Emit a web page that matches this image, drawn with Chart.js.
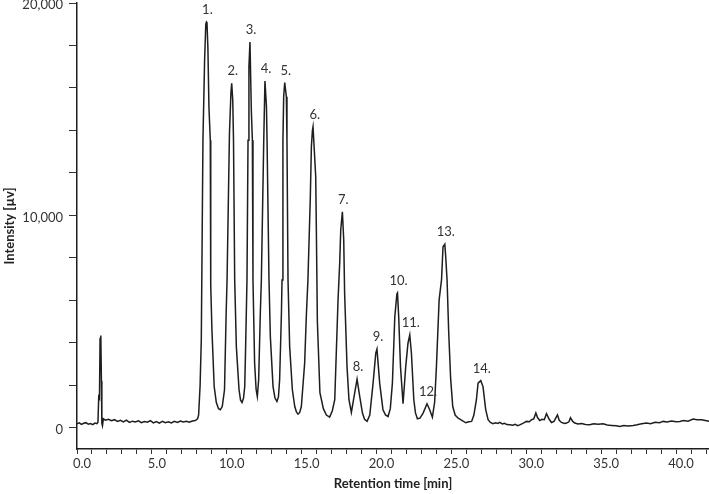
<!DOCTYPE html>
<html>
<head>
<meta charset="utf-8">
<script src="https://cdn.jsdelivr.net/npm/chart.js@4.4.1/dist/chart.umd.min.js"></script>
<style>
  html, body { margin: 0; padding: 0; background: #fff; }
  canvas { display: block; }
</style>
</head>
<body>
<canvas id="chromChart" width="709" height="494"></canvas>
<script>
// chromatogram trace (min, µV)
const retentionTime = [
    0.00, 0.15, 0.30, 0.45, 0.60, 0.75, 0.90, 1.05, 1.20, 1.33, 1.40, 1.45, 1.50, 1.54, 1.59, 1.63, 1.66, 1.70, 1.76,
    1.90, 2.10, 2.30, 2.50, 2.70, 2.90, 3.10, 3.30, 3.50, 3.70, 3.90, 4.10, 4.30, 4.50, 4.70, 4.90, 5.10, 5.30, 5.50,
    5.70, 5.90, 6.10, 6.30, 6.50, 6.70, 6.90, 7.10, 7.30, 7.50, 7.70, 7.90, 8.05, 8.12, 8.22, 8.30, 8.41, 8.52, 8.60,
    8.64, 8.68, 8.74, 8.81, 8.90, 8.93, 9.01, 9.16, 9.30, 9.45, 9.57, 9.70, 9.85, 9.96, 10.02, 10.18, 10.28, 10.33,
    10.40, 10.45, 10.53, 10.64, 10.82, 10.92, 11.02, 11.12, 11.20, 11.26, 11.35, 11.42, 11.48, 11.55, 11.64, 11.71,
    11.75, 11.86, 11.96, 12.04, 12.13, 12.24, 12.31, 12.47, 12.55, 12.65, 12.69, 12.82, 12.91, 13.09, 13.22, 13.35,
    13.45, 13.53, 13.65, 13.69, 13.75, 13.80, 13.87, 13.98, 14.02, 14.09, 14.20, 14.38, 14.54, 14.65, 14.76, 14.87,
    14.98, 15.20, 15.32, 15.42, 15.58, 15.65, 15.72, 15.76, 15.81, 15.94, 15.99, 16.05, 16.22, 16.45, 16.65, 16.87,
    17.05, 17.21, 17.43, 17.54, 17.61, 17.72, 17.81, 17.87, 18.03, 18.16, 18.32, 18.50, 18.70, 18.88, 19.06, 19.20,
    19.37, 19.55, 19.77, 19.95, 20.03, 20.21, 20.43, 20.60, 20.77, 20.92, 21.06, 21.22, 21.36, 21.40, 21.48, 21.60,
    21.77, 21.95, 22.10, 22.22, 22.33, 22.49, 22.60, 22.73, 22.90, 23.11, 23.37, 23.55, 23.73, 23.88, 24.00, 24.18,
    24.34, 24.44, 24.56, 24.62, 24.71, 24.82, 24.95, 25.09, 25.25, 25.45, 25.70, 25.96, 26.15, 26.35, 26.50, 26.67,
    26.78, 26.96, 27.11, 27.29, 27.45, 27.60, 27.78, 27.95, 28.10, 28.23, 28.40, 28.55, 28.70, 28.90, 29.10, 29.25,
    29.43, 29.60, 29.80, 30.01, 30.20, 30.35, 30.50, 30.64, 30.75, 30.90, 31.05, 31.20, 31.35, 31.52, 31.68, 31.85,
    32.08, 32.20, 32.35, 32.55, 32.69, 32.85, 32.95, 33.10, 33.24, 33.45, 33.70, 33.95, 34.24, 34.50, 34.80, 35.13,
    35.40, 35.70, 36.00, 36.25, 36.50, 36.80, 37.14, 37.40, 37.70, 38.03, 38.30, 38.60, 38.90, 39.14, 39.40, 39.70,
    40.00, 40.25, 40.50, 40.80, 41.14, 41.40, 41.70, 41.95, 42.20
];
const intensity = [
    190, 230, 160, 210, 240, 170, 200, 150, 220, 190, 260, 1450, 1380, 4200, 4340, 2200, 200, 90, 420,
    360, 400, 330, 380, 300, 350, 280, 360, 250, 310, 270, 330, 240, 290, 260, 340, 230, 290, 220,
    300, 240, 280, 230, 300, 250, 320, 270, 300, 260, 320, 340, 420, 600, 2000, 4140, 13540, 17300, 19000,
    19100, 19050, 17900, 15100, 13540, 6680, 4610, 1940, 1200, 900, 850, 1000, 1790, 5400, 6960, 13870, 15800, 16220,
    15420, 13540, 6960, 3820, 1790, 1300, 1190, 1400, 1940, 3820, 6960, 13540, 16990, 18160, 14950, 13540,
    6960, 3040, 1800, 1470, 2260, 5390, 6960, 13540, 16330, 15110, 13540, 6960, 4290, 1940, 1400, 1240,
    1450, 2260, 5390, 6960, 13540, 15580, 16250, 15580, 13540, 6960, 3820, 1790, 1000, 750, 640, 720,
    1000, 3040, 5390, 6960, 10880, 13230, 14000, 14170, 14170, 11820, 8840, 5000, 1650, 900, 600, 500,
    800, 1320, 6020, 7740, 9310, 10170, 8840, 6330, 2880, 1320, 720, 1470, 2290, 1470, 690, 400,
    300, 600, 2100, 3510, 3700, 2100, 850, 600, 530, 900, 2100, 5230, 6300, 6350, 5230, 2880,
    1130, 2880, 3980, 4370, 3510, 1320, 700, 420, 450, 690, 1130, 850, 500, 1200, 2880, 6020,
    6960, 8520, 8640, 8050, 6960, 4500, 2300, 1000, 600, 450, 350, 235, 280, 300, 600, 1320,
    2100, 2220, 1940, 850, 376, 250, 190, 230, 200, 250, 180, 210, 150, 140, 120, 160,
    94, 150, 220, 300, 280, 380, 420, 700, 480, 340, 400, 380, 660, 410, 250, 300,
    610, 350, 250, 200, 220, 280, 470, 300, 220, 180, 200, 150, 140, 190, 160, 190,
    130, 110, 90, 60, 110, 80, 110, 140, 190, 220, 190, 260, 240, 300, 270, 320,
    280, 300, 340, 310, 410, 380, 380, 340, 300
];

// numbered peaks
const peakLabels = ["1.", "2.", "3.", "4.", "5.", "6.", "7.", "8.", "9.", "10.", "11.", "12.", "13.", "14."];
const peakTimes = [8.64, 10.33, 11.55, 12.55, 13.87, 15.81, 17.72, 18.70, 20.03, 21.40, 22.22, 23.37, 24.56, 26.96];
const peakHeights = [19100, 16220, 18160, 16330, 16250, 14170, 10170, 2290, 3700, 6350, 4370, 1130, 8640, 2220];

// axis ticks
const xTickValues = [];
for (let t = 0; t <= 42; t++) xTickValues.push(t);
const yTickValues = [0, 2000, 4000, 6000, 8000, 10000, 12000, 14000, 16000, 18000, 20000];

const FONT = "Lato, 'Open Sans', sans-serif";
const INK = "#1e1e1e";

const peakLabelPlugin = {
    id: "peakLabels",
    afterDatasetsDraw(chart) {
        const ctx = chart.ctx;
        const xs = chart.scales.x;
        const ys = chart.scales.y;
        ctx.save();
        ctx.font = "13px " + FONT;
        ctx.fillStyle = "#333";
        ctx.textAlign = "center";
        ctx.textBaseline = "middle";
        for (let i = 0; i < peakLabels.length; i++) {
            ctx.fillText(peakLabels[i], xs.getPixelForValue(peakTimes[i]) + 1, ys.getPixelForValue(peakHeights[i]) - 12);
        }
        ctx.restore();
    }
};

const ctx = document.getElementById("chromChart").getContext("2d");
const chromChart = new Chart(ctx, {
    type: "line",
    data: {
        datasets: [
            {
                data: retentionTime.map((t, i) => ({ x: t, y: intensity[i] })),
                borderColor: INK,
                borderWidth: 1.5,
                pointRadius: 0,
                tension: 0,
                fill: false,
            },
        ],
    },
    options: {
        responsive: false,
        animation: false,
        layout: { padding: { top: 3, left: 0, right: 0, bottom: 0 } },
        plugins: {
            legend: { display: false },
            tooltip: { enabled: false },
        },
        scales: {
            x: {
                type: "linear",
                min: 0,
                max: 42.2,
                afterBuildTicks: (scale) => {
                    scale.ticks = xTickValues.map((v) => ({ value: v }));
                },
                afterFit: (scale) => {
                    scale.height = 45;
                    scale.paddingLeft = 0;
                    scale.paddingRight = 0;
                },
                ticks: {
                    autoSkip: false,
                    maxRotation: 0,
                    padding: 2,
                    labelOffset: 5,
                    color: "#333",
                    font: { family: FONT, size: 13 },
                    callback: (v) => (v % 5 === 0 ? v.toFixed(1) : ""),
                },
                grid: { drawOnChartArea: false, drawTicks: true, tickLength: 5, color: "#333", lineWidth: 1 },
                border: { color: INK, width: 1.5 },
                title: {
                    display: true,
                    text: "Retention time [min]",
                    color: "#222",
                    font: { family: FONT, size: 13, weight: "bold" },
                    padding: { top: 0, bottom: 2 },
                },
            },
            y: {
                min: -1000,
                max: 20000,
                afterBuildTicks: (scale) => {
                    scale.ticks = yTickValues.map((v) => ({ value: v }));
                },
                afterFit: (scale) => {
                    scale.width = 77;
                    scale.paddingTop = 0;
                    scale.paddingBottom = 0;
                },
                ticks: {
                    padding: 6,
                    labelOffset: 2,
                    color: "#333",
                    font: { family: FONT, size: 13 },
                    callback: (v) => (v % 10000 === 0 ? v.toLocaleString("en-US") : ""),
                },
                grid: { drawOnChartArea: false, drawTicks: true, tickLength: 8, color: "#333", lineWidth: 1 },
                border: { color: INK, width: 1.5 },
                title: {
                    display: true,
                    text: "Intensity [µv]",
                    color: "#222",
                    font: { family: FONT, size: 13, weight: "bold" },
                    padding: { top: 2, bottom: 0 },
                },
            },
        },
    },
    plugins: [peakLabelPlugin],
});
</script>
</body>
</html>
